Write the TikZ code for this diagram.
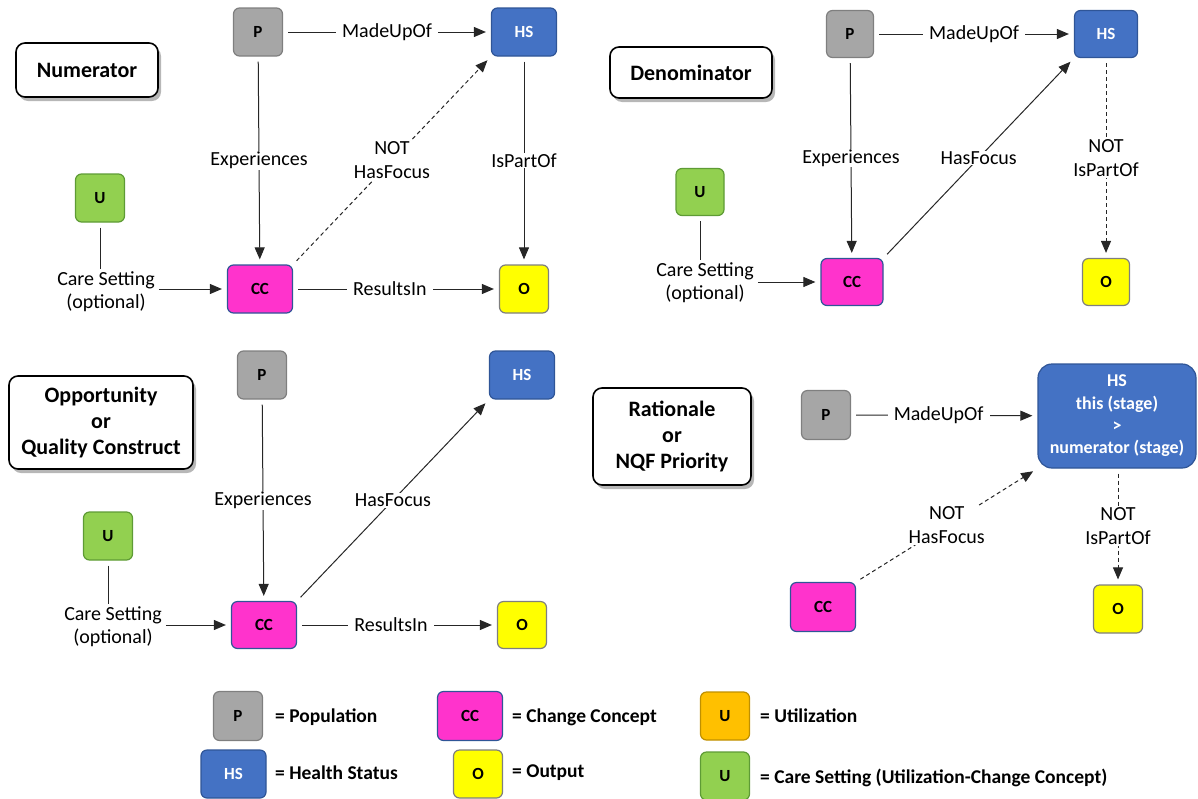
\documentclass[tikz,border=0pt]{standalone}
\usepackage{fontspec}
\setmainfont{Carlito}
\usetikzlibrary{arrows.meta,shadows}
\definecolor{pfill}{HTML}{A6A6A6}
\definecolor{pdraw}{HTML}{7F7F7F}
\definecolor{hsfill}{HTML}{4472C4}
\definecolor{hsdraw}{HTML}{2F5597}
\definecolor{ccfill}{HTML}{FF33CC}
\definecolor{ofill}{HTML}{FFFF00}
\definecolor{ufill}{HTML}{92D050}
\definecolor{udraw}{HTML}{5E9B35}
\definecolor{uofill}{HTML}{FFC000}
\definecolor{uodraw}{HTML}{BF9000}
\begin{document}
\begin{tikzpicture}[x=1pt,y=-1pt,
  box/.style={draw, rounded corners=6pt, line width=1.2pt, inner sep=0pt,
    font=\fontsize{17}{19}\selectfont\bfseries, text=black},
  pbox/.style={box, fill=pfill, draw=pdraw, minimum width=49pt, minimum height=48pt},
  hsbox/.style={box, fill=hsfill, draw=hsdraw, text=white, minimum width=65pt, minimum height=48pt},
  ccbox/.style={box, fill=ccfill, draw=hsdraw, minimum width=65pt, minimum height=48pt},
  obox/.style={box, fill=ofill, draw=pdraw, minimum width=49pt, minimum height=48pt},
  ubox/.style={box, fill=ufill, draw=udraw, minimum width=49pt, minimum height=48pt},
  uobox/.style={box, fill=uofill, draw=uodraw, minimum width=49pt, minimum height=48pt},
  titlebox/.style={draw, line width=1.6pt, rounded corners=9pt, fill=white, align=center,
    font=\fontsize{22}{26}\selectfont\bfseries, inner sep=0pt,
    drop shadow={shadow xshift=3pt, shadow yshift=-4pt, opacity=0.4, fill=black!70}},
  lbl/.style={fill=white, inner xsep=6pt, inner ysep=1pt, align=center,
    font=\fontsize{20}{24}\selectfont},
  cslbl/.style={inner sep=1pt, align=center, font=\fontsize{20}{23}\selectfont},
  legtext/.style={anchor=west, inner sep=0pt, font=\fontsize{19.5}{22}\selectfont\bfseries},
  conn/.style={line width=1pt, draw=black!85, shorten >=5pt, shorten <=5pt},
  arr/.style={conn, -{Triangle[length=12pt,width=10pt]}},
  dsh/.style={dash pattern=on 4pt off 3pt}
]
\useasboundingbox (0,0) rectangle (1198,798);

% ---------------- Panel 1: Numerator
\node[titlebox, minimum width=142pt, minimum height=54pt] (t1) at (87,70) {Numerator};
\node[pbox] (p1) at (258,32) {P};
\node[hsbox] (hs1) at (524,32) {HS};
\node[ubox] (u1) at (100,198) {U};
\node[ccbox] (cc1) at (260,289) {CC};
\node[obox] (o1) at (524,289) {O};
\node[cslbl] (cs1) at (106,292) {Care Setting\\(optional)};
\draw[arr] (p1) -- node[lbl]{MadeUpOf} (hs1);
\draw[arr] (p1) -- node[lbl]{Experiences} (cc1);
\draw[arr] (hs1) -- node[lbl]{IsPartOf} (o1);
\draw[arr,dsh] (cc1.north east) -- node[lbl]{NOT\\HasFocus} (hs1.south west);
\draw[arr] (cc1) -- node[lbl,pos=0.47]{ResultsIn} (o1);
\draw[conn, shorten >=2pt] (u1) -- (u1 |- cs1.north);
\draw[arr, shorten <=3pt] (cs1.east |- cc1) -- (cc1);

% ---------------- Panel 2: Denominator
\node[titlebox, minimum width=162pt, minimum height=51pt] (t2) at (691,72.5) {Denominator};
\node[pbox, minimum width=47pt, minimum height=47pt] (p2) at (850,34) {P};
\node[hsbox, minimum width=63pt, minimum height=47pt] (hs2) at (1106,34) {HS};
\node[ubox, minimum width=48pt, minimum height=47pt] (u2) at (700,192) {U};
\node[ccbox, minimum width=62pt, minimum height=47pt] (cc2) at (852,282) {CC};
\node[obox, minimum width=47pt, minimum height=47pt] (o2) at (1106,282) {O};
\node[cslbl] (cs2) at (705,283) {Care Setting\\(optional)};
\draw[arr] (p2) -- node[lbl]{MadeUpOf} (hs2);
\draw[arr] (p2) -- node[lbl]{Experiences} (cc2);
\draw[arr] (cc2.north east) -- node[lbl]{HasFocus} (hs2.south west);
\draw[arr,dsh] (hs2) -- node[lbl]{NOT\\IsPartOf} (o2);
\draw[conn, shorten >=2pt] (u2) -- (u2 |- cs2.north);
\draw[arr, shorten <=3pt] (cs2.east |- cc2) -- (cc2);

% ---------------- Panel 3: Opportunity or Quality Construct
\node[titlebox, minimum width=184pt, minimum height=93pt] (t3) at (101,422.5) {Opportunity\\or\\Quality Construct};
\node[pbox] (p3) at (262,375) {P};
\node[hsbox] (hs3) at (522,375) {HS};
\node[ubox] (u3) at (108,536) {U};
\node[ccbox, minimum height=47pt] (cc3) at (264,625) {CC};
\node[obox, minimum height=47pt] (o3) at (522,625) {O};
\node[cslbl] (cs3) at (113,627) {Care Setting\\(optional)};
\draw[arr] (p3) -- node[lbl]{Experiences} (cc3);
\draw[arr] (cc3.north east) -- node[lbl]{HasFocus} (hs3.south west);
\draw[arr] (cc3) -- node[lbl,pos=0.47]{ResultsIn} (o3);
\draw[conn, shorten >=2pt] (u3) -- (u3 |- cs3.north);
\draw[arr, shorten <=3pt] (cs3.east |- cc3) -- (cc3);

% ---------------- Panel 4: Rationale or NQF Priority
\node[titlebox, minimum width=158pt, minimum height=97pt] (t4) at (672,436.5) {Rationale\\or\\NQF Priority};
\node[pbox, minimum height=49pt] (p4) at (826,415) {P};
\node[hsbox, minimum width=158pt, minimum height=104pt, rounded corners=14pt, align=center,
  font=\fontsize{18}{22.3}\selectfont\bfseries] (hs4) at (1117,416)
  {HS\\this (stage)\\>\\numerator (stage)};
\node[ccbox, minimum height=49pt] (cc4) at (823,607) {CC};
\node[obox] (o4) at (1118,609) {O};
\draw[arr] (p4) -- node[lbl,pos=0.47]{MadeUpOf} (hs4);
\draw[arr,dsh] (cc4.north east) -- node[lbl]{NOT\\HasFocus} (hs4.south west);
\draw[arr,dsh] (hs4.south -| o4) -- node[lbl]{NOT\\IsPartOf} (o4);

% ---------------- Legend
\node[pbox, minimum height=49pt] (lp) at (238,716) {P};
\node[legtext] (lpt) at (275,717) {= Population};
\node[ccbox, minimum height=49pt] (lcc) at (470,716) {CC};
\node[legtext] (lcct) at (512,717) {= Change Concept};
\node[uobox] (luo) at (725,716) {U};
\node[legtext] (luot) at (760,716) {= Utilization};
\node[hsbox] (lhs) at (233.5,774) {HS};
\node[legtext] (lhst) at (275,773) {= Health Status};
\node[obox] (lo) at (478,774) {O};
\node[legtext] (lot) at (512,773) {= Output};
\node[ubox] (lu) at (725,776) {U};
\node[legtext] (lut) at (760,778) {= Care Setting (Utilization-Change Concept)};
\end{tikzpicture}
\end{document}
